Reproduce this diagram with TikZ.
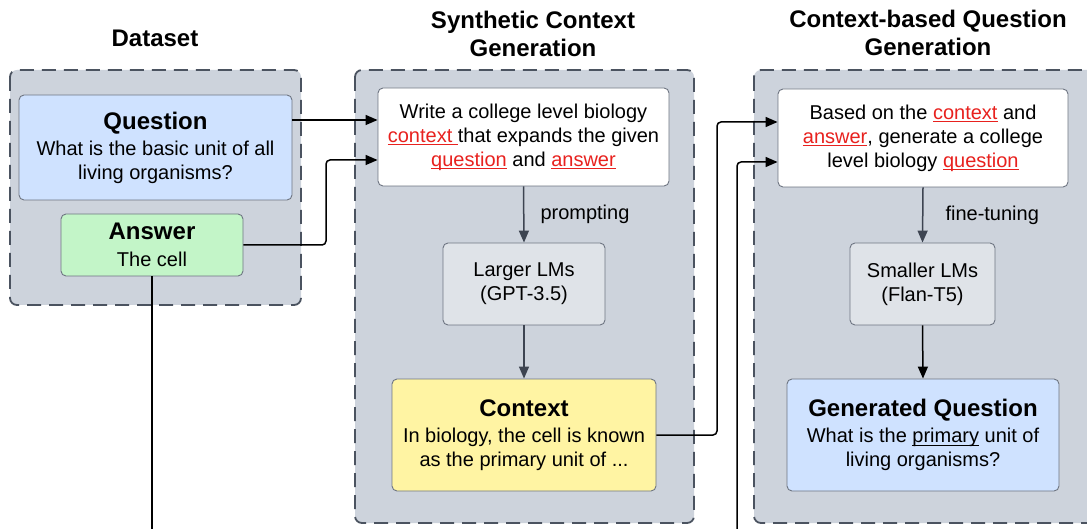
\documentclass[tikz,border=0pt]{standalone}
\usepackage{fontspec}
\setmainfont{Liberation Sans}
\usetikzlibrary{arrows.meta,calc}
\definecolor{panelfill}{HTML}{CDD3DC}
\definecolor{panelline}{HTML}{4B5360}
\definecolor{boxline}{HTML}{6E7582}
\definecolor{qblue}{HTML}{CFE2FF}
\definecolor{agreen}{HTML}{C3F5C8}
\definecolor{cyellow}{HTML}{FFF4A3}
\definecolor{lmgray}{HTML}{DFE3E8}
\definecolor{arrgray}{HTML}{3D4451}
\definecolor{hired}{HTML}{E8211E}
\newcommand\ttl[1]{{\fontsize{24}{27}\selectfont\bfseries #1}}
\newcommand\myul[1]{\setbox0\hbox{#1}\rlap{\rule[-3pt]{\wd0}{1pt}}\box0\relax}
\newcommand\rw[1]{\textcolor{hired}{\myul{#1}}}
\tikzset{
  panel/.style={draw=panelline, fill=panelfill, line width=1.8pt, dash pattern=on 14pt off 8pt, rounded corners=7pt},
  heading/.style={align=center, font=\fontsize{24}{28}\selectfont\bfseries, inner sep=0pt},
  box/.style={draw=boxline, line width=0.9pt, rounded corners=5pt, align=center, inner sep=0pt,
     font=\fontsize{20}{24}\selectfont},
  conn/.style={draw=black, line width=1.5pt, rounded corners=4pt, -{Triangle[length=12pt,width=10pt]}},
  plain/.style={draw=black, line width=1.5pt, rounded corners=4pt},
  garr/.style={draw=arrgray, line width=1.5pt, -{Triangle[length=12pt,width=10pt]}},
  lbl/.style={font=\fontsize{20}{24}\selectfont, inner sep=0pt}
}
\begin{document}
\begin{tikzpicture}[x=1pt,y=1pt]
\clip (0,0) rectangle (1087,-529);
\fill[white] (0,0) rectangle (1087,-529);

% panels
\draw[panel] (10,-70) rectangle (301,-305);
\draw[panel] (355,-70) rectangle (694,-523);
\draw[panel] (754,-70) rectangle (1100,-523);

% headings
\node[heading] (h1) at (155,-38) {Dataset};
\node[heading] (h2) at (533,-34) {Synthetic Context\\Generation};
\node[heading] (h3) at (928,-33) {Context-based Question\\Generation};

% dataset boxes
\node[box, fill=qblue, minimum width=273pt, minimum height=105pt] (q) at (155.5,-147.5)
  {\ttl{Question}\\[2pt]What is the basic unit of all\\living organisms?};
\node[box, fill=agreen, minimum width=182pt, minimum height=62pt] (a) at (152,-245)
  {\ttl{Answer}\\[3pt]The cell};

% synthetic context
\node[box, fill=white, minimum width=291pt, minimum height=98pt] (p1) at (523.5,-137)
  {Write a college level biology\\\rw{context }that expands the given\\\rw{question} and \rw{answer}};
\node[box, fill=lmgray, minimum width=162pt, minimum height=82pt] (lm1) at (524,-284)
  {Larger LMs\\(GPT-3.5)};
\node[box, fill=cyellow, minimum width=264pt, minimum height=112pt] (ctx) at (524,-435)
  {\ttl{Context}\\[2pt]In biology, the cell is known\\as the primary unit of ...};

% question generation
\node[box, fill=white, minimum width=290pt, minimum height=98pt] (p2) at (923,-138)
  {Based on the \rw{context} and\\\rw{answer}, generate a college\\level biology \rw{question}};
\node[box, fill=lmgray, minimum width=145pt, minimum height=82pt] (lm2) at (922.5,-284)
  {Smaller LMs\\(Flan-T5)};
\node[box, fill=qblue, minimum width=272pt, minimum height=112pt] (gq) at (923,-435)
  {\ttl{Generated Question}\\[2pt]What is the \myul{primary} unit of\\living organisms?};

% internal arrows
\draw[garr] (p1.south) -- (lm1.north) node[lbl, midway, right=16pt] (l1) {prompting};
\draw[garr] (lm1.south) -- (ctx.north);
\draw[garr] (p2.south) -- (lm2.north) node[lbl, midway, right=22pt] (l2) {fine-tuning};
\draw[conn] (lm2.south) -- (gq.north);

% connectors
\coordinate (b1) at (152,-540);
\coordinate (b2) at (737,-540);
\draw[conn] ([yshift=27.5pt]q.east) -- ([yshift=17pt]p1.west);
\draw[conn] (a.east) -- (326,-245) -- (326,-160) -- ([yshift=-23pt]p1.west);
\draw[plain] (a.south) -- (b1);
\draw[conn] (ctx.east) -- (717,-435) -- (717,-122) -- ([yshift=16pt]p2.west);
\draw[conn] (b2) -- (737,-162) -- ([yshift=-24pt]p2.west);
\end{tikzpicture}
\end{document}
